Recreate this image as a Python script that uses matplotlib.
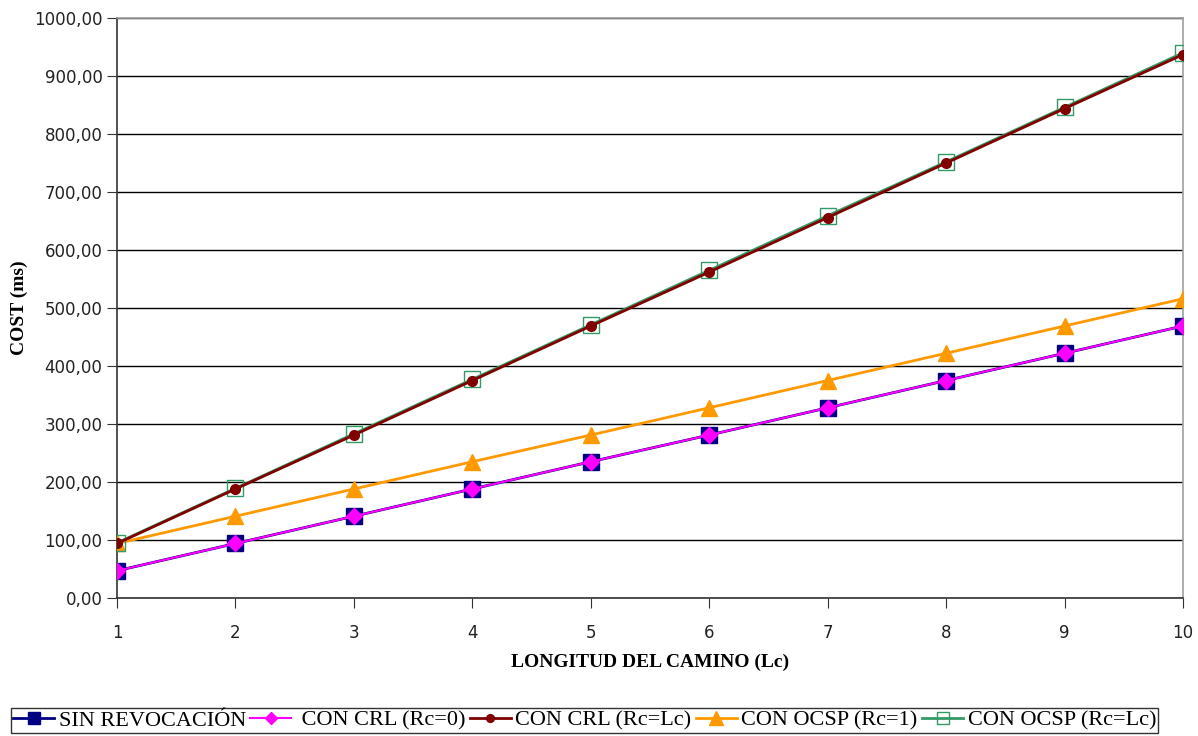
import matplotlib
matplotlib.use('Agg')
import matplotlib.pyplot as plt
from matplotlib.ticker import FuncFormatter

# path length (Lc)
lc = [1, 2, 3, 4, 5, 6, 7, 8, 9, 10]

# cost in ms for each revocation scheme
sin_revocacion = [47, 94, 141, 188, 235, 281, 328, 375, 422, 469]
crl_rc0 = [47, 94, 141, 188, 235, 281, 328, 375, 422, 469]
crl_rclc = [94, 188, 281, 375, 469, 562, 656, 750, 844, 937]
ocsp_rc1 = [94, 141, 188, 235, 281, 328, 375, 422, 469, 516]
ocsp_rclc = [95, 189, 283, 377, 471, 565, 659, 752, 846, 940]

labels = ['SIN REVOCACIÓN', ' CON CRL (Rc=0)', 'CON CRL (Rc=Lc)',
          'CON OCSP (Rc=1)', 'CON OCSP (Rc=Lc)']

fig = plt.figure(figsize=(11.98, 7.36), dpi=100)
ax = fig.add_axes([0.0977, 0.1875, 0.8898, 0.788])

ax.plot(lc, sin_revocacion, color='#000080', lw=2, marker='s', ms=11,
        mfc='#000080', mec='#000080', label=labels[0], zorder=3)
ax.plot(lc, crl_rc0, color='#ff00ff', lw=1.5, marker='D', ms=8,
        mfc='#ff00ff', mec='#ff00ff', label=labels[1], zorder=4)
ax.plot(lc, crl_rclc, color='#800000', lw=2, marker='o', ms=7,
        mfc='#800000', mec='#800000', label=labels[2], zorder=4)
ax.plot(lc, ocsp_rc1, color='#ff9900', lw=2, marker='^', ms=12,
        mfc='#ff9900', mec='#ff9900', label=labels[3], zorder=3)
ax.plot(lc, ocsp_rclc, color='#339966', lw=2, marker='s', ms=11,
        mfc='none', mec='#339966', mew=1, label=labels[4], zorder=3)

ax.set_xlim(1, 10)
ax.set_ylim(0, 1000)
ax.set_xticks(lc)
ax.set_yticks(range(0, 1001, 100))
ax.yaxis.set_major_formatter(FuncFormatter(lambda v, p: '{0:.2f}'.format(v).replace('.', ',')))
ax.grid(axis='y', color='black', lw=1)
ax.set_axisbelow(True)

for s in ['left', 'bottom']:
    ax.spines[s].set_color('#333333')
    ax.spines[s].set_linewidth(1.2)
for s in ['top', 'right']:
    ax.spines[s].set_color('#a0a0a0')
    ax.spines[s].set_linewidth(1.2)

ax.tick_params(axis='both', direction='out', length=7, color='#333333',
               labelsize=12, labelcolor='#222222')
ax.tick_params(axis='x', pad=12)
for t in ax.get_xticklabels() + ax.get_yticklabels():
    t.set_family('DejaVu Sans')

ax.set_xlabel('LONGITUD DEL CAMINO (Lc)', family='Liberation Serif',
              fontweight='bold', fontsize=14, labelpad=8)
ax.set_ylabel('COST (ms)', family='Liberation Serif', fontweight='bold',
              fontsize=14, labelpad=4)

leg = fig.legend(loc='lower left', bbox_to_anchor=(0.009, 0.004),
                 ncol=5, frameon=True, fancybox=False,
                 prop={'family': 'Liberation Serif', 'size': 16},
                 handlelength=1.85, handletextpad=0.2, columnspacing=0.2,
                 borderpad=0.1, borderaxespad=0, markerscale=0.8)
leg.get_frame().set_edgecolor('black')
leg.get_frame().set_linewidth(1)

fig.savefig('out.png', dpi=100)
